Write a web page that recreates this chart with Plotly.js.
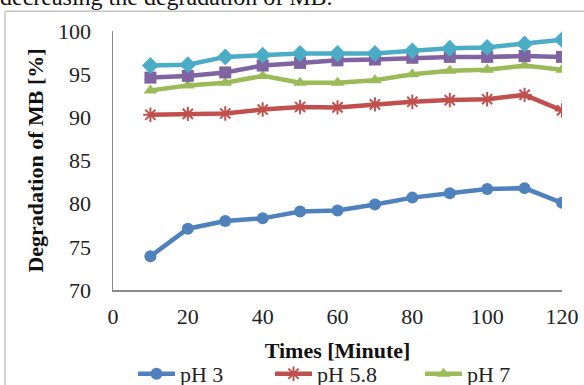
<!DOCTYPE html>
<html>
<head>
<meta charset="utf-8">
<script src="https://cdn.plot.ly/plotly-3.0.1.min.js"></script>
<style>html,body{margin:0;padding:0;background:#fff;}#chart{width:584px;height:385px;}</style>
</head>
<body>
<div id="chart"></div>
<script>
var times = [10, 20, 30, 40, 50, 60, 70, 80, 90, 100, 110, 120];
var pH3   = [73.9, 77.1, 78.0, 78.3, 79.1, 79.2, 79.9, 80.7, 81.2, 81.7, 81.8, 80.1];
var pH58  = [90.3, 90.4, 90.45, 90.9, 91.2, 91.15, 91.5, 91.8, 92.0, 92.1, 92.6, 90.8];
var pH7   = [93.1, 93.7, 94.0, 94.8, 94.0, 94.0, 94.3, 95.0, 95.4, 95.5, 96.0, 95.5];
var pH9   = [94.6, 94.8, 95.2, 96.0, 96.3, 96.6, 96.7, 96.9, 97.0, 97.0, 97.1, 97.0];
var pH11  = [96.0, 96.1, 97.0, 97.2, 97.4, 97.4, 97.4, 97.7, 98.0, 98.1, 98.5, 99.0];
var yTicks = [70, 75, 80, 85, 90, 95, 100];
var xTicks = [0, 20, 40, 60, 80, 100, 120];

var serif = "Liberation Serif";

var traces = [
  {x: times, y: pH3, name: "pH 3", mode: "lines+markers", legend: "legend",
   line: {color: "#4F81BD", width: 4.5},
   marker: {symbol: "circle", size: 12, color: "#4F81BD"}},
  {x: times, y: pH58, name: "pH 5.8", mode: "lines+markers", legend: "legend2",
   line: {color: "#C0504D", width: 4.5},
   marker: {symbol: "asterisk-open", size: 12, color: "#C0504D", line: {color: "#C0504D", width: 2}}},
  {x: times, y: pH7, name: "pH 7", mode: "lines+markers", legend: "legend3",
   line: {color: "#9BBB59", width: 4.5},
   marker: {symbol: "triangle-up", size: 12, color: "#9BBB59"}},
  {x: times, y: pH9, name: "pH 9", mode: "lines+markers", showlegend: false,
   line: {color: "#8064A2", width: 4.5},
   marker: {symbol: "square", size: 12, color: "#8064A2"}},
  {x: times, y: pH11, name: "pH 11", mode: "lines+markers", showlegend: false,
   line: {color: "#4BACC6", width: 4.5},
   marker: {symbol: "diamond", size: 13, color: "#4BACC6"}}
];

function legendAt(x) {
  return {orientation: "h", x: x, xanchor: "left", y: -0.243, yanchor: "top",
          itemwidth: 37,
          font: {family: serif, size: 22, color: "#222"}, bgcolor: "rgba(0,0,0,0)"};
}

var layout = {
  width: 584, height: 385,
  margin: {l: 113, r: 22, t: 31, b: 95, autoexpand: false},
  paper_bgcolor: "#fff", plot_bgcolor: "#fff",
  font: {family: serif, size: 22, color: "#222"},
  showlegend: true,
  xaxis: {
    range: [0, 120], tickvals: xTicks, ticktext: xTicks.map(String),
    showgrid: false, zeroline: false,
    showline: true, linecolor: "#8a8a8a", linewidth: 1.5,
    ticks: "outside", ticklen: 6, tickcolor: "rgba(0,0,0,0)",
    tickfont: {family: serif, size: 22, color: "#222"},
    title: {text: "<b>Times [Minute]</b>", font: {family: serif, size: 22, color: "#111"}, standoff: 14}
  },
  yaxis: {
    range: [70, 100], tickvals: yTicks, ticktext: yTicks.map(String),
    showgrid: false, zeroline: false,
    showline: true, linecolor: "#8a8a8a", linewidth: 1.5,
    ticks: "outside", ticklen: 16, tickcolor: "rgba(0,0,0,0)",
    tickfont: {family: serif, size: 22, color: "#222"},
    title: {text: "<b>Degradation of MB [%]</b>", font: {family: serif, size: 22, color: "#111"}, standoff: 8}
  },
  legend: legendAt(0.0445),
  legend2: legendAt(0.3497),
  legend3: legendAt(0.6837),
  annotations: [{
    xref: "paper", yref: "paper", x: -0.256, y: 1.13, xanchor: "left", yanchor: "middle",
    text: "decreasing the degradation of MB.", showarrow: false,
    font: {family: serif, size: 24, color: "#111"}
  }],
  shapes: [
    {type: "line", xref: "paper", yref: "paper", x0: -0.2405, x1: -0.2405, y0: 1.076, y1: -0.4,
     line: {color: "#c4c4c4", width: 1.5}},
    {type: "line", xref: "paper", yref: "paper", x0: -0.2405, x1: 1.06, y0: 1.076, y1: 1.076,
     line: {color: "#c4c4c4", width: 1.5}}
  ]
};

Plotly.newPlot("chart", traces, layout, {displayModeBar: false, staticPlot: true});
</script>
</body>
</html>
